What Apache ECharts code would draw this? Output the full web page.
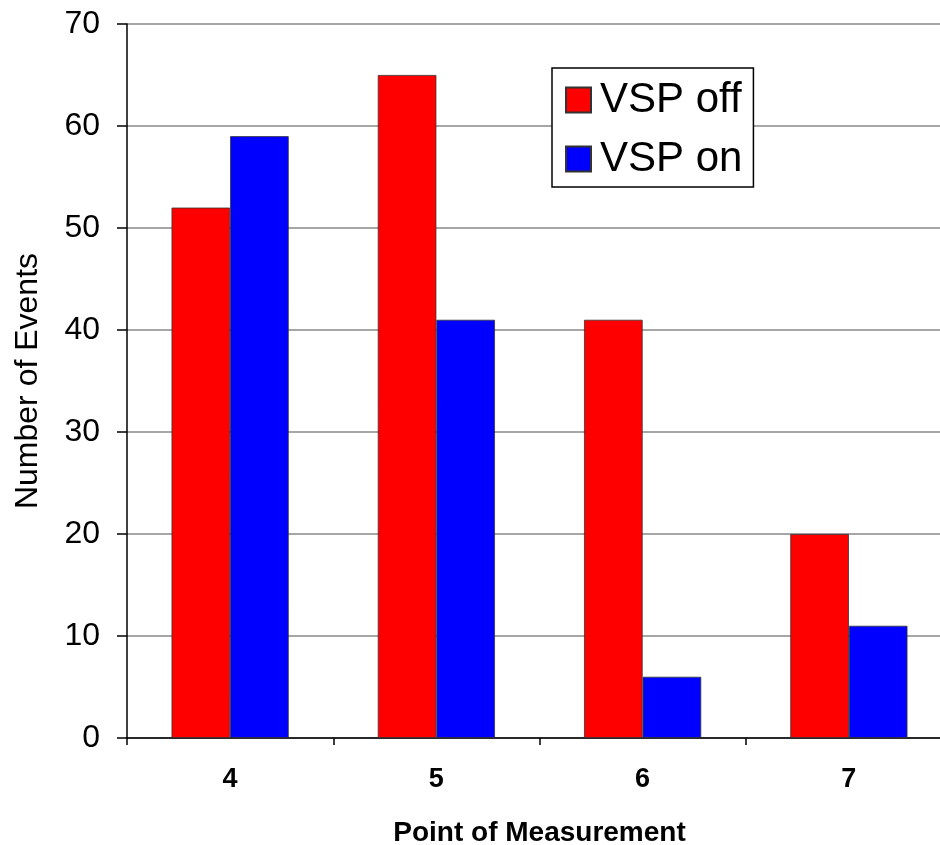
<!DOCTYPE html>
<html>
<head>
<meta charset="utf-8">
<script src="https://cdn.jsdelivr.net/npm/echarts@6/dist/echarts.min.js"></script>
<style>
html,body{margin:0;padding:0;background:#fff;}
#chart{width:940px;height:845px;}
</style>
</head>
<body>
<div id="chart"></div>
<script>
var categories = ['4', '5', '6', '7'];
var vspOff = [52, 65, 41, 20];
var vspOn = [59, 41, 6, 11];
var yTicks = { min: 0, max: 70, interval: 10 };

var FONT = '"Liberation Sans", Arial, sans-serif';
var chart = echarts.init(document.getElementById('chart'), null, { renderer: 'canvas' });
chart.setOption({
  backgroundColor: '#fff',
  animation: false,
  textStyle: { fontFamily: FONT, color: '#000' },
  grid: { left: 127, width: 825, top: 24, bottom: 107, containLabel: false, outerBoundsMode: 'none' },
  legend: {
    orient: 'vertical',
    left: 552,
    top: 68,
    padding: [11, 11, 7, 13],
    borderColor: '#000',
    borderWidth: 1.5,
    backgroundColor: '#fff',
    itemWidth: 25,
    itemHeight: 25,
    itemGap: 17,
    icon: 'rect',
    textStyle: { fontFamily: FONT, fontSize: 42, lineHeight: 41, color: '#000', padding: [0, 0, 0, 4] },
    data: ['VSP off', 'VSP on']
  },
  xAxis: {
    type: 'category',
    data: categories,
    name: 'Point of Measurement',
    nameLocation: 'middle',
    nameGap: 81,
    nameTextStyle: { fontFamily: FONT, fontSize: 28, fontWeight: 'bold', color: '#000' },
    axisLine: { lineStyle: { color: '#000', width: 1.5 } },
    axisTick: { show: true, length: 7, lineStyle: { color: '#000', width: 1.5 } },
    axisLabel: { fontFamily: FONT, fontSize: 27, fontWeight: 'bold', color: '#000', margin: 28 },
    splitLine: { show: false }
  },
  yAxis: {
    type: 'value',
    min: yTicks.min,
    max: yTicks.max,
    interval: yTicks.interval,
    name: 'Number of Events',
    nameLocation: 'middle',
    nameRotate: 90,
    nameGap: 83,
    nameTextStyle: { fontFamily: FONT, fontSize: 32, color: '#000' },
    axisLine: { show: true, lineStyle: { color: '#000', width: 1.5 } },
    axisTick: { show: true, length: 10, lineStyle: { color: '#000', width: 1.5 } },
    axisLabel: { fontFamily: FONT, fontSize: 32, color: '#000', margin: 27 },
    splitLine: { show: true, lineStyle: { color: '#888', width: 1.5 } }
  },
  series: [
    {
      name: 'VSP off',
      type: 'bar',
      data: vspOff,
      barWidth: '28.4%',
      barGap: '0%',
      itemStyle: { color: '#ff0000', borderColor: '#333', borderWidth: 0.8 }
    },
    {
      name: 'VSP on',
      type: 'bar',
      data: vspOn,
      barWidth: '28.4%',
      barGap: '0%',
      itemStyle: { color: '#0000ff', borderColor: '#333', borderWidth: 0.8 }
    }
  ]
});
</script>
</body>
</html>
